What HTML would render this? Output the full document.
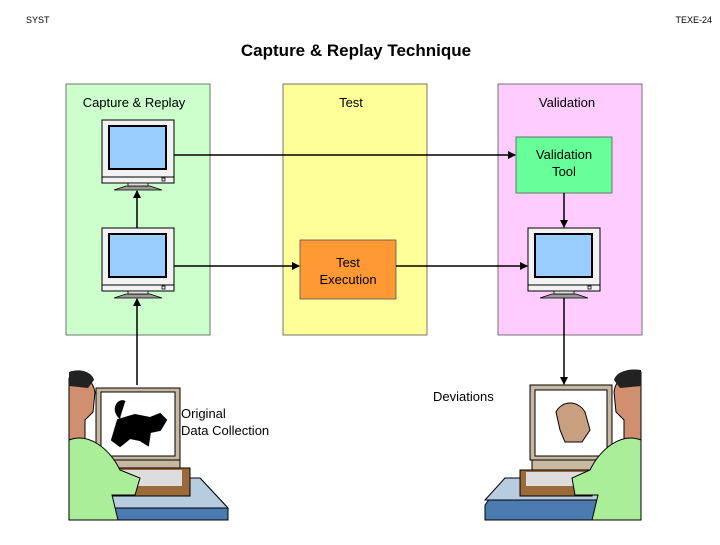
<!DOCTYPE html>
<html><head><style>
body{margin:0;width:720px;height:540px;background:#fff;overflow:hidden;font-family:"Liberation Sans",sans-serif}
</style></head><body>
<svg width="720" height="540" xmlns="http://www.w3.org/2000/svg" font-family="Liberation Sans, sans-serif">
<defs>
<marker id="a" markerWidth="8" markerHeight="8" refX="7" refY="4" orient="auto" markerUnits="userSpaceOnUse"><path d="M0,0 L8,4 L0,8 z" fill="#000"/></marker>
<g id="mon">
<rect x="0" y="0" width="72" height="57" fill="#f2f2f2" stroke="#000" stroke-width="1"/>
<rect x="7" y="6" width="57" height="43" fill="#99ccff" stroke="#000" stroke-width="2"/>
<rect x="0" y="57" width="72" height="6" fill="#f2f2f2" stroke="#000" stroke-width="1"/>
<rect x="60" y="58" width="3" height="3" fill="none" stroke="#000" stroke-width="0.8"/>
<path d="M12,70 L24,66 L48,66 L60,70 Z" fill="#999" stroke="#000" stroke-width="0.8"/>
<rect x="26" y="63" width="20" height="3" fill="#ddd" stroke="#000" stroke-width="0.8"/>
</g>
</defs>
<text x="26" y="23" font-size="9">SYST</text>
<text x="712" y="23" font-size="9" text-anchor="end">TEXE-24</text>
<text x="356" y="56" font-size="17" font-weight="bold" text-anchor="middle">Capture &amp; Replay Technique</text>

<rect x="66" y="84" width="144" height="251" fill="#ccffcc" stroke="#555" stroke-width="0.8"/>
<rect x="283" y="84" width="144" height="251" fill="#ffff99" stroke="#555" stroke-width="0.8"/>
<rect x="498" y="84" width="144" height="251" fill="#ffccff" stroke="#555" stroke-width="0.8"/>
<text x="134" y="107" font-size="13" text-anchor="middle">Capture &amp; Replay</text>
<text x="351" y="107" font-size="13" text-anchor="middle">Test</text>
<text x="567" y="107" font-size="13" text-anchor="middle">Validation</text>

<rect x="516" y="137" width="96" height="56" fill="#66ff99" stroke="#555" stroke-width="0.8"/>
<text x="564" y="159" font-size="13" text-anchor="middle">Validation</text>
<text x="564" y="176" font-size="13" text-anchor="middle">Tool</text>
<rect x="300" y="240" width="96" height="59" fill="#ff9933" stroke="#555" stroke-width="0.8"/>
<text x="348" y="267" font-size="13" text-anchor="middle">Test</text>
<text x="348" y="284" font-size="13" text-anchor="middle">Execution</text>

<use href="#mon" x="102" y="120"/>
<use href="#mon" x="102" y="228"/>
<use href="#mon" x="528" y="228"/>

<g stroke="#000" stroke-width="1.5" fill="none">
<line x1="174" y1="155" x2="515" y2="155" marker-end="url(#a)"/>
<line x1="174" y1="266" x2="299" y2="266" marker-end="url(#a)"/>
<line x1="396" y1="266" x2="527" y2="266" marker-end="url(#a)"/>
<line x1="564" y1="193" x2="564" y2="227" marker-end="url(#a)"/>
<line x1="137" y1="228" x2="137" y2="191" marker-end="url(#a)"/>
<line x1="137" y1="385" x2="137" y2="299" marker-end="url(#a)"/>
<line x1="564" y1="298" x2="564" y2="384" marker-end="url(#a)"/>
</g>

<path d="M88,520 L110,478 L200,478 L228,508 L228,520 Z" fill="#4a7ab0" stroke="#000"/>
<path d="M88,478 L200,478 L228,508 L110,508 Z" fill="#b8cce0" stroke="#000"/>
<rect x="96" y="388" width="84" height="72" fill="#c8b8a0" stroke="#000"/>
<rect x="101" y="392" width="74" height="64" fill="#fff" stroke="#000"/>
<path d="M112,440 L118,420 L135,415 L150,418 L160,414 L166,420 L160,430 L150,432 L148,445 L140,440 L130,438 L120,446 Z M120,418 C110,408 120,398 125,402" fill="#000" stroke="#000" stroke-width="2"/>
<rect x="110" y="460" width="70" height="8" fill="#c8b8a0" stroke="#000"/>
<rect x="110" y="468" width="80" height="28" fill="#9a6a3a" stroke="#000"/>
<rect x="120" y="470" width="62" height="16" fill="#ddd"/>
<path d="M69,378 C80,370 92,378 95,392 L93,412 L85,420 L85,440 L69,440 Z" fill="#d09070" stroke="#000"/>
<path d="M69,372 C80,368 92,372 94,380 L88,388 L69,386 Z" fill="#222"/>
<path d="M69,440 C90,432 110,450 120,470 L140,478 L135,495 L112,495 L118,520 L69,520 Z" fill="#aaee99" stroke="#000"/>
<text x="181" y="418" font-size="13">Original</text>
<text x="181" y="435" font-size="13">Data Collection</text>

<path d="M485,505 L505,478 L600,478 L625,478 L625,520 L485,520 Z" fill="#4a7ab0" stroke="#000"/>
<path d="M505,478 L612,478 L612,500 L485,500 Z" fill="#b8cce0" stroke="#000"/>
<rect x="530" y="385" width="82" height="75" fill="#c8b8a0" stroke="#000"/>
<rect x="535" y="390" width="72" height="66" fill="#fff" stroke="#000"/>
<path d="M556,412 C562,400 578,400 585,412 L590,430 L582,442 L565,442 L560,430 Z" fill="#c8a080" stroke="#000"/>
<rect x="532" y="460" width="80" height="10" fill="#c8b8a0" stroke="#000"/>
<rect x="520" y="470" width="72" height="26" fill="#9a6a3a" stroke="#000"/>
<rect x="526" y="472" width="60" height="14" fill="#ddd"/>
<path d="M641,372 C628,370 616,378 614,392 L616,412 L624,420 L624,440 L641,440 Z" fill="#d09070" stroke="#000"/>
<path d="M641,370 C628,368 616,372 614,380 L620,388 L641,386 Z" fill="#222"/>
<path d="M641,440 C620,432 600,450 590,470 L572,478 L575,495 L598,495 L592,520 L641,520 Z" fill="#aaee99" stroke="#000"/>
<text x="433" y="401" font-size="13">Deviations</text>
</svg>
</body></html>
